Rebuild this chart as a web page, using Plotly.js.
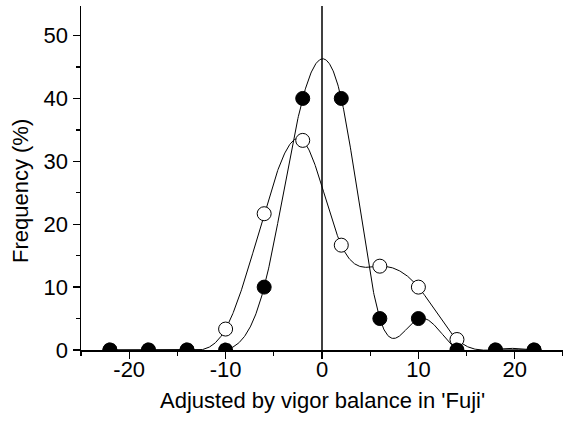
<!DOCTYPE html>
<html>
<head>
<meta charset="utf-8">
<script src="https://cdn.plot.ly/plotly-3.0.1.min.js"></script>
<style>html,body{margin:0;padding:0;background:#fff;}#chart{width:563px;height:424px;}</style>
</head>
<body>
<div id="chart"></div>
<script>
// Data
const xValues = [-22, -18, -14, -10, -6, -2, 2, 6, 10, 14, 18, 22];
const filledFreq = [0, 0, 0, 0, 10, 40, 40, 5, 5, 0, 0, 0];
const openFreq = [0, 0, 0, 3.33, 21.67, 33.33, 16.67, 13.33, 10, 1.67, 0, 0];
const xTickVals = [-20, -10, 0, 10, 20];
const yTickVals = [0, 10, 20, 30, 40, 50];
const xTitle = "Adjusted by vigor balance in 'Fuji'";
const yTitle = 'Frequency (%)';

// Natural cubic spline through the data (used only to draw the smooth line)
function naturalSpline(xs, ys, step) {
  const n = xs.length;
  const h = [];
  for (let i = 0; i < n - 1; i++) h.push(xs[i + 1] - xs[i]);
  const a = new Array(n).fill(0), b = new Array(n).fill(0), c = new Array(n).fill(0), d = new Array(n).fill(0);
  b[0] = 1; b[n - 1] = 1;
  for (let i = 1; i < n - 1; i++) {
    a[i] = h[i - 1];
    b[i] = 2 * (h[i - 1] + h[i]);
    c[i] = h[i];
    d[i] = 6 * ((ys[i + 1] - ys[i]) / h[i] - (ys[i] - ys[i - 1]) / h[i - 1]);
  }
  const cp = new Array(n).fill(0), dp = new Array(n).fill(0);
  cp[0] = c[0] / b[0]; dp[0] = d[0] / b[0];
  for (let i = 1; i < n; i++) {
    const m = b[i] - a[i] * cp[i - 1];
    cp[i] = c[i] / m;
    dp[i] = (d[i] - a[i] * dp[i - 1]) / m;
  }
  const M = new Array(n).fill(0);
  M[n - 1] = dp[n - 1];
  for (let i = n - 2; i >= 0; i--) M[i] = dp[i] - cp[i] * M[i + 1];
  const ox = [], oy = [];
  for (let i = 0; i < n - 1; i++) {
    const x0 = xs[i], x1 = xs[i + 1], hi = h[i];
    const steps = Math.round(hi / step);
    for (let k = 0; k <= steps; k++) {
      if (i > 0 && k === 0) continue;
      const x = x0 + k * hi / steps;
      const A = (x1 - x) / hi, B = (x - x0) / hi;
      const y = A * ys[i] + B * ys[i + 1] + ((A * A * A - A) * M[i] + (B * B * B - B) * M[i + 1]) * hi * hi / 6;
      ox.push(x); oy.push(y);
    }
  }
  return {x: ox, y: oy};
}

const W = 563, H = 424;
const margin = {l: 81, r: 0, t: 6, b: 74, pad: 0};
const xRange = [-25, 25];
const yRange = [0, 54.7];
const markerSize = 14;

const pxPerUnitX = (W - margin.l - margin.r) / (xRange[1] - xRange[0]);
const pxPerUnitY = (H - margin.t - margin.b) / (yRange[1] - yRange[0]);

// Points sitting on the x axis show only their upper half (cut by the axis),
// so they are drawn as half-discs in data space.
function halfDiscsAtAxis(xs, ys, rPx) {
  const px = [], py = [];
  xs.forEach((x, i) => {
    if (ys[i] !== yRange[0]) return;
    for (let k = 0; k <= 24; k++) {
      const t = Math.PI * k / 24;
      px.push(x + rPx * Math.cos(t) / pxPerUnitX);
      py.push(ys[i] + rPx * Math.sin(t) / pxPerUnitY);
    }
    px.push(px[px.length - 25]); py.push(ys[i]);
    px.push(null); py.push(null);
  });
  return {x: px, y: py};
}
const sizesFor = ys => ys.map(v => v === yRange[0] ? 0 : markerSize);

const filledCurve = naturalSpline(xValues, filledFreq, 0.05);
const openCurve = naturalSpline(xValues, openFreq, 0.05);
const openAxis = halfDiscsAtAxis(xValues, openFreq, markerSize / 2);
const filledAxis = halfDiscsAtAxis(xValues, filledFreq, markerSize / 2 + 0.5);

const traces = [
  {x: openCurve.x, y: openCurve.y, mode: 'lines', line: {color: '#000', width: 1}, hoverinfo: 'skip', showlegend: false},
  {x: filledCurve.x, y: filledCurve.y, mode: 'lines', line: {color: '#000', width: 1}, hoverinfo: 'skip', showlegend: false},
  {x: openAxis.x, y: openAxis.y, mode: 'lines', fill: 'toself', fillcolor: '#fff', line: {color: '#000', width: 1}, hoverinfo: 'skip', showlegend: false},
  {x: xValues, y: openFreq, mode: 'markers', marker: {size: sizesFor(openFreq), opacity: 1, color: '#fff', line: {color: '#000', width: 1}}, showlegend: false},
  {x: filledAxis.x, y: filledAxis.y, mode: 'lines', fill: 'toself', fillcolor: '#000', line: {color: '#000', width: 0}, hoverinfo: 'skip', showlegend: false},
  {x: xValues, y: filledFreq, mode: 'markers', marker: {size: sizesFor(filledFreq), opacity: 1, color: '#000', line: {color: '#000', width: 1}}, showlegend: false}
];

const fontFam = 'Liberation Sans, Arial, sans-serif';
const layout = {
  width: W, height: H,
  margin: margin,
  paper_bgcolor: '#fff', plot_bgcolor: '#fff',
  font: {family: fontFam, color: '#000', size: 22},
  showlegend: false,
  xaxis: {
    range: xRange, tickvals: xTickVals, ticktext: xTickVals.map(v => v < 0 ? '-' + Math.abs(v) : String(v)),
    ticks: 'outside', ticklen: 7, tickwidth: 1.3, tickcolor: '#000', ticklabelstandoff: -8,
    minor: {dtick: 5, tick0: 0, ticks: 'outside', ticklen: 4, tickwidth: 1.3, tickcolor: '#000', showgrid: false},
    showline: true, linecolor: '#000', linewidth: 1.5, showgrid: false, zeroline: false,
    tickfont: {size: 22, family: fontFam}, layer: 'above traces'
  },
  yaxis: {
    range: yRange, tickvals: yTickVals,
    ticks: 'outside', ticklen: 7, tickwidth: 1.3, tickcolor: '#000',
    minor: {dtick: 5, tick0: 0, ticks: 'outside', ticklen: 4, tickwidth: 1.3, tickcolor: '#000', showgrid: false},
    showline: true, linecolor: '#000', linewidth: 1.5, showgrid: false, zeroline: false,
    tickfont: {size: 22, family: fontFam}, layer: 'above traces'
  },
  annotations: [
    {text: xTitle, xref: 'paper', yref: 'paper', x: 0.5, y: -0.148, xanchor: 'center', yanchor: 'middle', showarrow: false, font: {size: 22, family: fontFam, color: '#000'}},
    {text: yTitle, xref: 'paper', yref: 'paper', x: -0.1266, y: 0.462, xanchor: 'center', yanchor: 'middle', textangle: -90, showarrow: false, font: {size: 22, family: fontFam, color: '#000'}}
  ],
  shapes: [
    {type: 'line', xref: 'x', yref: 'paper', x0: 0, x1: 0, y0: 0, y1: 1, line: {color: '#000', width: 1.5}, layer: 'below'}
  ]
};

Plotly.newPlot('chart', traces, layout, {staticPlot: true, displayModeBar: false});
</script>
</body>
</html>
